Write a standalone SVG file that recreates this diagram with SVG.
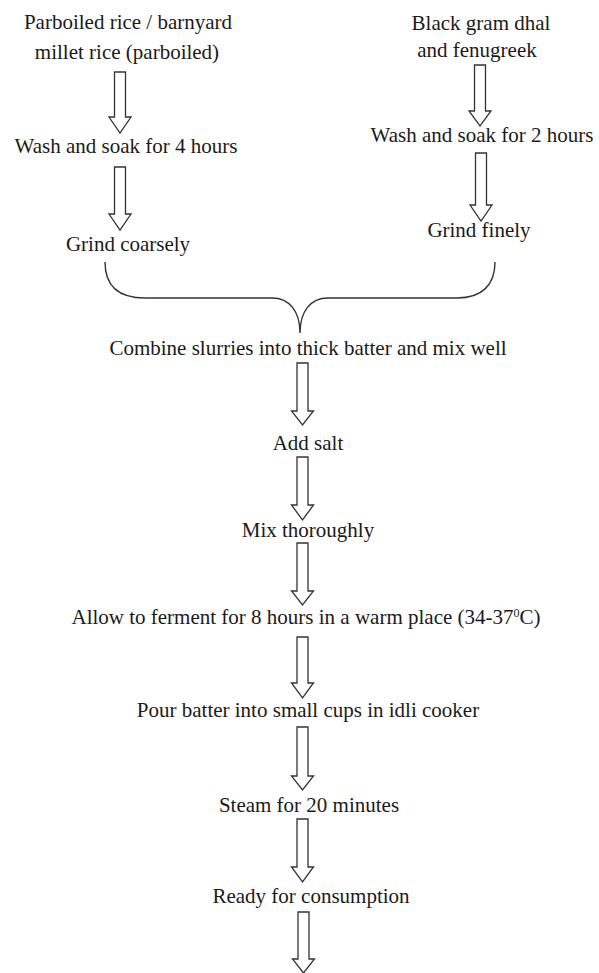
<svg xmlns="http://www.w3.org/2000/svg" width="599" height="973" viewBox="0 0 599 973">
<style>
text{font-family:"Liberation Serif","Times New Roman",serif;font-size:21px;fill:#1a1a1a;text-anchor:middle}
.arr{fill:#fff;stroke:#333;stroke-width:1.3;stroke-linejoin:miter}
.brace{fill:none;stroke:#333;stroke-width:1.4}
</style>
<rect width="599" height="973" fill="#fff"/>
<g id="connectors">
<path class="arr" d="M114.5,72 L125.5,72 L125.5,117 L131,117 L120,133 L109,117 L114.5,117 Z"/>
<path class="arr" d="M114.5,167 L125.5,167 L125.5,214 L131,214 L120,230 L109,214 L114.5,214 Z"/>
<path class="arr" d="M474.5,65 L485.5,65 L485.5,111 L491,111 L480,126 L469,111 L474.5,111 Z"/>
<path class="arr" d="M475.5,153 L486.5,153 L486.5,205 L492,205 L481,221 L470,205 L475.5,205 Z"/>
<path class="brace" d="M105,262 C105,285 118,298 145,298 L272,298 C290,298 300,312 300,333 C300,312 310,298 328,298 L457,298 C482,298 495,285 495,262"/>
<path class="arr" d="M297,363 L308,363 L308,411 L313.5,411 L302.5,425 L291.5,411 L297,411 Z"/>
<path class="arr" d="M297,457 L308,457 L308,505 L313.5,505 L302.5,520 L291.5,505 L297,505 Z"/>
<path class="arr" d="M297,543 L308,543 L308,591 L313.5,591 L302.5,605 L291.5,591 L297,591 Z"/>
<path class="arr" d="M297,637 L308,637 L308,683 L313.5,683 L302.5,698 L291.5,683 L297,683 Z"/>
<path class="arr" d="M297,727 L308,727 L308,776 L313.5,776 L302.5,790 L291.5,776 L297,776 Z"/>
<path class="arr" d="M297,819 L308,819 L308,867 L313.5,867 L302.5,882 L291.5,867 L297,867 Z"/>
<path class="arr" d="M298,912 L309,912 L309,959 L314.5,959 L303.5,973 L292.5,959 L298,959 Z"/>
</g>
<g id="n1"><text x="128" y="29">Parboiled rice / barnyard</text><text x="127" y="59">millet rice (parboiled)</text></g>
<g id="n2"><text x="126" y="153">Wash and soak for 4 hours</text></g>
<g id="n3"><text x="128" y="251">Grind coarsely</text></g>
<g id="n4"><text x="481" y="30">Black gram dhal</text><text x="477" y="57">and fenugreek</text></g>
<g id="n5"><text x="482" y="142">Wash and soak for 2 hours</text></g>
<g id="n6"><text x="479" y="237">Grind finely</text></g>
<g id="n7"><text x="308" y="355">Combine slurries into thick batter and mix well</text></g>
<g id="n8"><text x="308" y="450">Add salt</text></g>
<g id="n9"><text x="308" y="537">Mix thoroughly</text></g>
<g id="n10"><text x="306" y="624">Allow to ferment for 8 hours in a warm place (34-37<tspan font-size="12" dy="-7">0</tspan><tspan dy="7">C)</tspan></text></g>
<g id="n11"><text x="308" y="717">Pour batter into small cups in idli cooker</text></g>
<g id="n12"><text x="309" y="812">Steam for 20 minutes</text></g>
<g id="n13"><text x="311" y="903">Ready for consumption</text></g>
</svg>
